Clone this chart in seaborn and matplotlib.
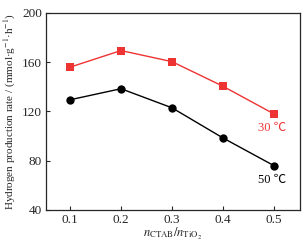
import matplotlib
matplotlib.use('agg')
import matplotlib.pyplot as plt
import pandas as pd
import seaborn as sns

ratio = [0.1, 0.2, 0.3, 0.4, 0.5]
rate_30 = [156, 169.5, 160.5, 140.5, 118]
rate_50 = [129.5, 138.5, 123, 98.5, 76]

sns.set_theme(style='ticks')
plt.rcParams['font.family'] = ['Liberation Serif', 'DejaVu Sans']
plt.rcParams['mathtext.fontset'] = 'stix'

df = pd.DataFrame({'ratio': ratio * 2,
                   'rate': rate_30 + rate_50,
                   'temp': ['30'] * 5 + ['50'] * 5})

fig = plt.figure(figsize=(3.08, 2.44), dpi=100)
ax = fig.add_axes([46 / 308, 34 / 244, 254 / 308, 197 / 244])

sns.lineplot(data=df, x='ratio', y='rate', hue='temp', style='temp',
             palette={'30': '#ee3333', '50': 'black'},
             markers={'30': 's', '50': 'o'}, dashes=False,
             markersize=6, markeredgewidth=0, linewidth=1.0,
             legend=False, ax=ax)

ax.set_xlim(0.053, 0.551)
ax.set_ylim(40, 200)
ax.set_xticks(ratio)
ax.set_xticklabels(['0.1', '0.2', '0.3', '0.4', '0.5'])
ax.set_yticks([40, 80, 120, 160, 200])
ax.tick_params(direction='in', length=3, width=0.8, labelsize=9.5,
               top=False, right=False, pad=3)
for s in ax.spines.values():
    s.set_linewidth(0.9)

ax.set_xlabel(r'$n_{\mathrm{CTAB}}/n_{\mathrm{TiO_2}}$', fontsize=9, labelpad=0)
ax.set_ylabel('Hydrogen production rate / (mmol·g$^{-1}$·h$^{-1}$)',
              fontsize=8, labelpad=3)

lab_fonts = ['Liberation Serif', 'Noto Sans CJK SC']
ax.text(0.497, 107, '30 ℃', color='#ee3333', fontsize=9, ha='center',
        va='center', family=lab_fonts)
ax.text(0.497, 64, '50 ℃', color='black', fontsize=9, ha='center',
        va='center', family=lab_fonts)

fig.savefig('out.png', dpi=100)
